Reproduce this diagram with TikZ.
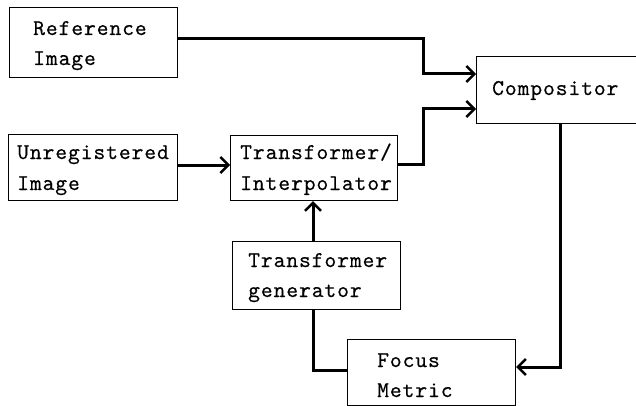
\documentclass[tikz,border=0pt]{standalone}
\usepackage{fontspec}
\newfontfamily\labelfont{lmmono10-regular.otf}[LetterSpace=4,FakeBold=0.3]
\usetikzlibrary{arrows.meta}
\begin{document}
\begin{tikzpicture}[x=1pt,y=-1pt,
  box/.style={draw,line width=1.2pt,rectangle,inner sep=0,anchor=north west},
  lbl/.style={anchor=base west,inner sep=0,font=\labelfont\fontsize{22.5}{30}\selectfont},
  link/.style={line width=3pt,line join=miter},
  feed/.style={link,-{Straight Barb[length=8pt,width=16pt,line width=2.4pt]}}]
\useasboundingbox (0,0) rectangle (636,406);
\clip (0,0) rectangle (636,406);
\fill[white] (0,0) rectangle (636,406);

% blocks
\node[box,minimum width=168pt,minimum height=70pt] (ref)   at (9,7)     {};
\node[box,minimum width=169pt,minimum height=66pt] (unreg) at (8,134)   {};
\node[box,minimum width=167pt,minimum height=65pt] (trans) at (230,135) {};
\node[box,minimum width=180pt,minimum height=67pt] (comp)  at (476,56)  {};
\node[box,minimum width=168pt,minimum height=68pt] (gen)   at (232,241) {};
\node[box,minimum width=168pt,minimum height=66pt] (focus) at (347,339) {};

% block labels
\node[lbl] (refA)   at (33,35)   {Reference};
\node[lbl] (refB)   at (33,65)   {Image};
\node[lbl] (unregA) at (17,159)  {Unregistered};
\node[lbl] (unregB) at (17,190)  {Image};
\node[lbl] (transA) at (240,159) {Transformer/};
\node[lbl] (transB) at (240,190) {Interpolator};
\node[lbl] (compA)  at (492,95)  {Compositor};
\node[lbl] (genA)   at (248,267) {Transformer};
\node[lbl] (genB)   at (248,297) {generator};
\node[lbl] (focusA) at (377,367) {Focus};
\node[lbl] (focusB) at (377,397) {Metric};

% bend points of the connectors
\coordinate (r1) at (423,39);
\coordinate (r2) at (423,74);
\coordinate (t1) at (423,164);
\coordinate (t2) at (423,109);
\coordinate (u1) at (0,165);
\coordinate (g1) at (313,0);
\coordinate (c1) at (560,367);
\coordinate (f1) at (313,370);

% connectors
\draw[feed] (ref.east |- r1) -- (r1) -- (r2) -- (comp.west |- r2);
\draw[feed] (trans.east |- t1) -- (t1) -- (t2) -- (comp.west |- t2);
\draw[feed] (unreg.east |- u1) -- (trans.west |- u1);
\draw[feed] (gen.north -| g1) -- (trans.south -| g1);
\draw[feed] (comp.south -| c1) -- (c1) -- (focus.east |- c1);
\draw[link] (gen.south -| g1) -- (f1) -- (focus.west |- f1);
\end{tikzpicture}
\end{document}
